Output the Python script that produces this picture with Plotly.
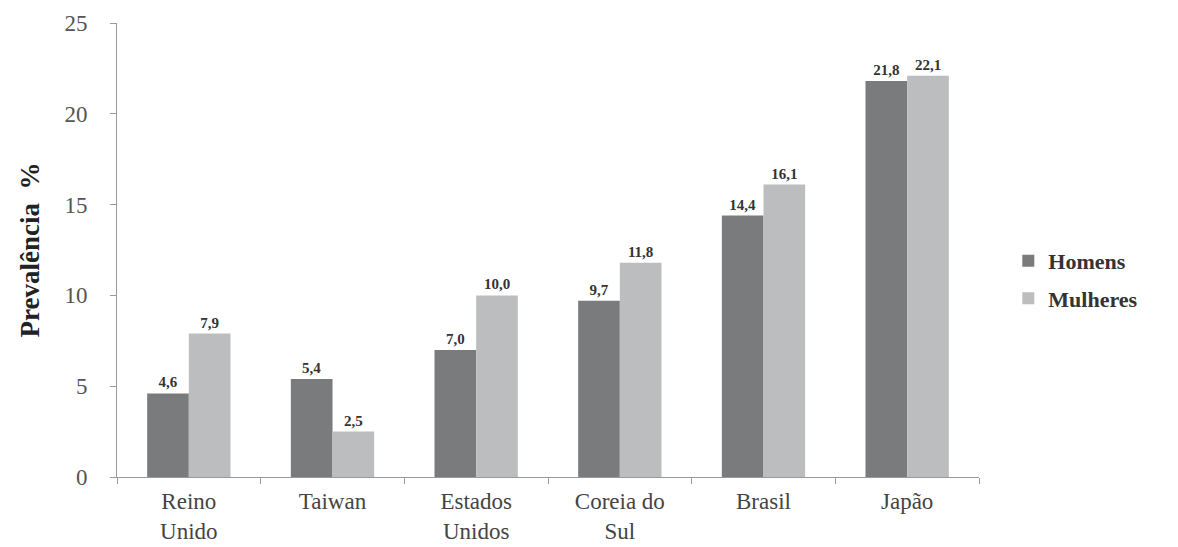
import plotly.graph_objects as go

categories = ["Reino<br>Unido", "Taiwan", "Estados<br>Unidos", "Coreia do<br>Sul", "Brasil", "Japão"]
homens = [4.6, 5.4, 7.0, 9.7, 14.4, 21.8]
mulheres = [7.9, 2.5, 10.0, 11.8, 16.1, 22.1]
y_ticks = [0, 5, 10, 15, 20, 25]

def fmt(v):
    return f"{v:.1f}".replace(".", ",")

serif = "Liberation Serif"

fig = go.Figure()
fig.add_trace(go.Bar(
    name="Homens", x=categories, y=homens, legendgroup="h",
    marker=dict(color="#7a7b7d", line=dict(width=0)),
    text=[fmt(v) for v in homens], textposition="outside",
    textfont=dict(family=serif, size=15, color="#333333", weight="bold"),
    cliponaxis=False,
))
fig.add_trace(go.Bar(
    name="Mulheres", x=categories, y=mulheres, legendgroup="m",
    marker=dict(color="#bcbdbf", line=dict(width=0)),
    text=[fmt(v) for v in mulheres], textposition="outside",
    textfont=dict(family=serif, size=15, color="#333333", weight="bold"),
    cliponaxis=False,
))

fig.update_layout(
    width=1178, height=547,
    margin=dict(l=117, r=199, t=23, b=70, autoexpand=False),
    paper_bgcolor="white", plot_bgcolor="white",
    barmode="group", bargap=0.42, bargroupgap=0,
    font=dict(family=serif, color="#444444"),
    legend=dict(
        x=1.034, y=0.434, xanchor="left", yanchor="middle",
        font=dict(family=serif, size=22, color="#333333", weight="bold"),
        tracegroupgap=6,
    ),
    showlegend=True,
)
fig.update_yaxes(
    range=[0, 25], tickvals=y_ticks, ticktext=[str(t) for t in y_ticks],
    showgrid=False, zeroline=False, automargin=False,
    showline=True, linecolor="#9a9a9a", linewidth=1,
    ticks="outside", ticklen=6, tickcolor="#9a9a9a", ticklabelstandoff=18,
    tickfont=dict(family=serif, size=23, color="#555555"),
    title=dict(text="Prevalência\u00a0\u00a0%", font=dict(family=serif, size=27, color="#222222", weight="bold"), standoff=16),
)
fig.update_xaxes(
    showgrid=False, zeroline=False, automargin=False,
    showline=True, linecolor="#9a9a9a", linewidth=1,
    ticks="outside", tickson="boundaries", ticklen=6, tickcolor="#9a9a9a", ticklabelstandoff=3,
    tickfont=dict(family=serif, size=23, color="#444444"),
)

fig.write_html("out.html")
